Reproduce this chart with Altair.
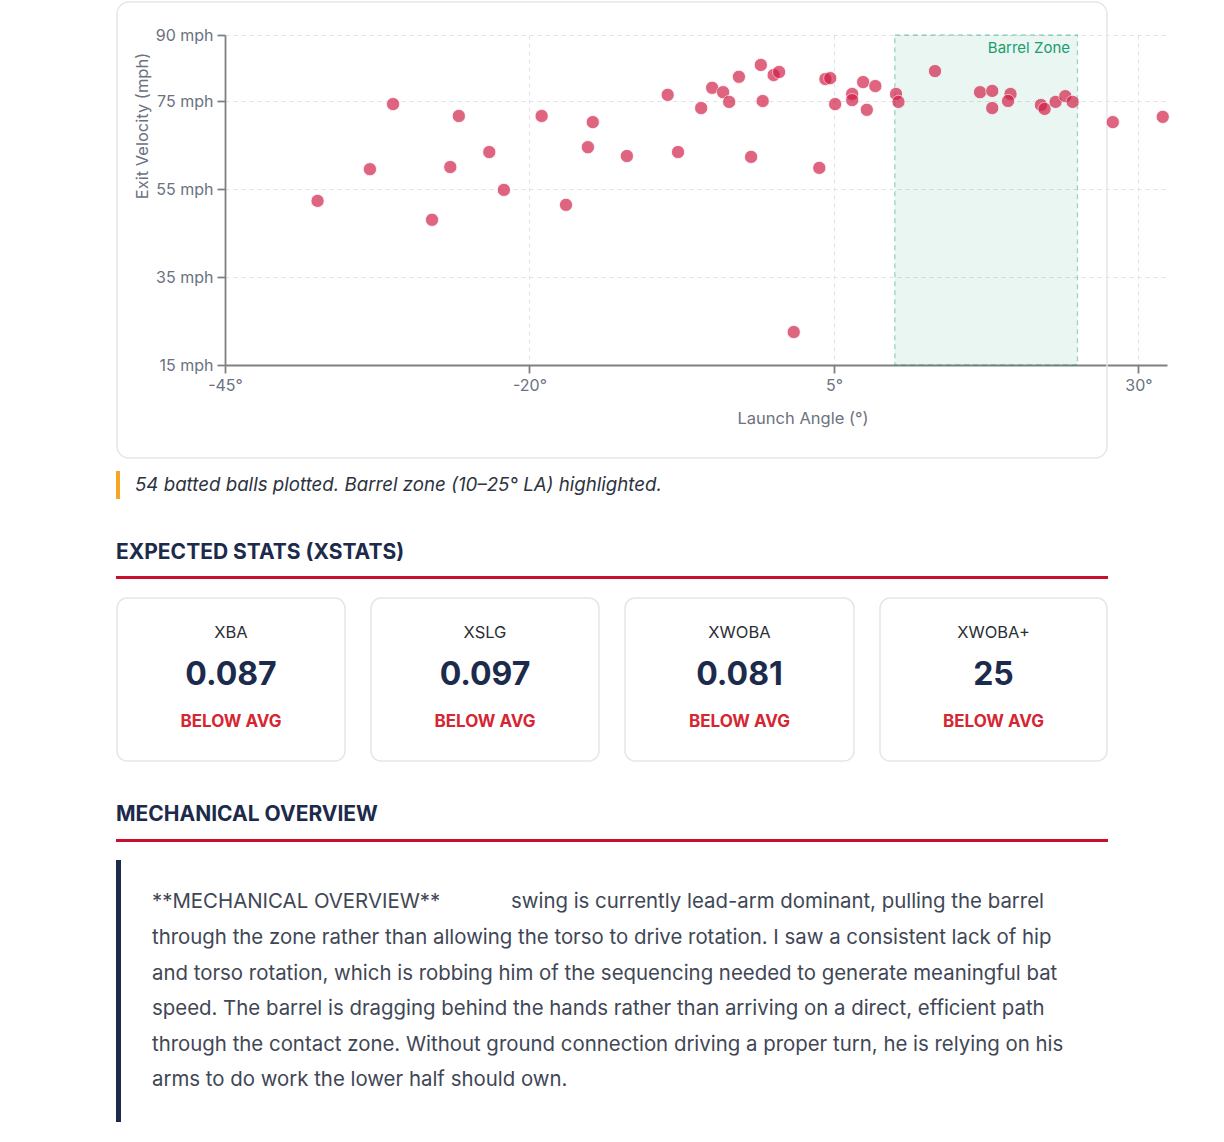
import altair as alt
import pandas as pd

# ---------------- data ----------------
launch_angle = [-37.4, -33.1, -31.2, -28.0, -26.5, -25.8, -23.3, -22.1, -19.0, -17.0,
                -15.2, -14.8, -12.0, -8.65, -7.8, -5.9, -5.0, -4.1, -3.6, -2.8,
                -1.8, -1.0, -0.85, 0.05, 0.5, 1.7, 3.8, 4.3, 4.7, 5.1,
                6.5, 6.5, 7.4, 7.7, 8.4, 10.1, 10.3, 13.3, 17.0, 18.0,
                18.0, 19.5, 19.3, 22.0, 22.3, 23.2, 24.0, 24.6, 27.9, 32.0]
exit_velocity = [52.3, 59.5, 74.3, 48.0, 60.0, 71.6, 63.4, 54.8, 71.6, 51.4,
                 64.5, 70.2, 62.5, 76.4, 63.4, 73.4, 78.0, 77.0, 74.8, 80.5,
                 62.3, 83.2, 75.0, 80.9, 81.6, 22.5, 59.8, 80.0, 80.2, 74.3,
                 76.6, 75.2, 79.3, 73.0, 78.4, 76.6, 74.8, 81.8, 77.0, 77.3,
                 73.4, 76.6, 75.0, 74.1, 73.2, 74.8, 76.1, 74.8, 70.2, 71.4]

barrel_zone = [10, 25]
x_ticks = [-45, -20, 5, 30]
y_ticks = [15, 35, 55, 75, 90]

caption = "54 batted balls plotted. Barrel zone (10\u201325\u00b0 LA) highlighted."
stat_labels = ["XBA", "XSLG", "XWOBA", "XWOBA+"]
stat_values = ["0.087", "0.097", "0.081", "25"]
stat_status = ["BELOW AVG", "BELOW AVG", "BELOW AVG", "BELOW AVG"]

heading_stats = "EXPECTED STATS (XSTATS)"
heading_mech = "MECHANICAL OVERVIEW"
para_first = ["**MECHANICAL OVERVIEW**", "swing is currently lead-arm dominant, pulling the barrel"]
para_lines = [
    "through the zone rather than allowing the torso to drive rotation. I saw a consistent lack of hip",
    "and torso rotation, which is robbing him of the sequencing needed to generate meaningful bat",
    "speed. The barrel is dragging behind the hands rather than arriving on a direct, efficient path",
    "through the contact zone. Without ground connection driving a proper turn, he is relying on his",
    "arms to do work the lower half should own.",
]

# ---------------- layout helpers ----------------
FONT = "Inter"
NAVY = "#1c2a4b"
RED_LINE = "#c8102e"
OX, OY = 225, 35          # plot origin on the page
PW, PH = 942, 330         # plot area size

one = alt.Chart(pd.DataFrame({"k": [0]}))


def txt(x, y, s, size, color, weight="normal", align="left", baseline="middle",
        style="normal", angle=None):
    kw = dict(text=s, fontSize=size, color=color, fontWeight=weight, align=align,
              baseline=baseline, font=FONT, fontStyle=style)
    if angle is not None:
        kw["angle"] = angle
    return one.mark_text(**kw).encode(x=alt.value(x - OX), y=alt.value(y - OY))


def box(x1, y1, x2, y2, **kw):
    return one.mark_rect(**kw).encode(
        x=alt.value(x1 - OX), x2=alt.value(x2 - OX),
        y=alt.value(y1 - OY), y2=alt.value(y2 - OY))


# ---------------- scatter ----------------
xscale = alt.Scale(domain=[-45, 32.35], nice=False, zero=False)
yscale = alt.Scale(domain=[15, 90], nice=False, zero=False)
axis_common = dict(title=None, grid=True, gridDash=[4, 4], gridColor="#dfe2e8",
                   domainColor="#808080", domainWidth=1.8, tickColor="#808080",
                   tickWidth=1.8, tickSize=8, labelColor="#6b7280", labelFontSize=16,
                   labelFont=FONT, labelPadding=4)
xaxis = alt.Axis(values=x_ticks, labelExpr="datum.value + '\u00b0'", labelFlush=False,
                 **axis_common)
yaxis = alt.Axis(values=y_ticks, labelExpr="datum.value + ' mph'", **axis_common)

pts = pd.DataFrame({"la": launch_angle, "ev": exit_velocity})
zone = pd.DataFrame({"lo": [barrel_zone[0]], "hi": [barrel_zone[1]]})

zone_layer = alt.Chart(zone).mark_rect(
    fill="#10a06a", fillOpacity=0.09, stroke="#10a06a", strokeOpacity=0.4,
    strokeDash=[5, 4], strokeWidth=1.3
).encode(
    x=alt.X("lo:Q", scale=xscale, axis=xaxis), x2="hi:Q",
    y=alt.Y(datum=90, scale=yscale, axis=yaxis), y2=alt.Y2(datum=15),
)

scatter = alt.Chart(pts).mark_circle(
    size=175, color="#d01c45", opacity=0.68, stroke="white", strokeWidth=0.8
).encode(
    x=alt.X("la:Q", scale=xscale, axis=xaxis),
    y=alt.Y("ev:Q", scale=yscale, axis=yaxis),
)

layers = []
# chart card
layers.append(box(117, 2, 1107, 458, filled=False, stroke="#e3e6eb", strokeWidth=1.5,
                  cornerRadius=12))
layers.append(zone_layer)
layers.append(scatter)
layers.append(txt(1070, 48, "Barrel Zone", 15, "#1a9d6c", align="right"))
layers.append(txt(143, 126, "Exit Velocity (mph)", 16.5, "#6b7280", align="center", angle=270))
layers.append(txt(803, 419, "Launch Angle (\u00b0)", 16.5, "#6b7280", align="center"))

# caption
layers.append(box(116, 471, 120, 499, fill="#f5a623"))
layers.append(txt(135, 485, caption, 18.7, "#2d3340", style="italic"))

# expected stats heading
layers.append(txt(116, 553, heading_stats, 21, NAVY, weight="bold"))
layers.append(box(116, 576, 1108, 579, fill=RED_LINE))

# stat cards
card_x = [(117, 345), (371, 599), (625, 854), (880, 1107)]
for (x1, x2), lab, val, st in zip(card_x, stat_labels, stat_values, stat_status):
    cx = (x1 + x2) / 2
    layers.append(box(x1, 598, x2, 761, filled=False, stroke="#e3e6eb", strokeWidth=1.5,
                      cornerRadius=10))
    layers.append(txt(cx, 633, lab, 16.5, "#2b2f36", align="center"))
    layers.append(txt(cx, 675, val, 32, NAVY, weight="bold", align="center"))
    layers.append(txt(cx, 722, st, 17, "#d62631", weight="bold", align="center"))

# mechanical overview
layers.append(txt(116, 815, heading_mech, 21, NAVY, weight="bold"))
layers.append(box(116, 839, 1108, 842, fill=RED_LINE))
layers.append(box(116, 860, 121, 1122, fill=NAVY))

PCOL = "#3f4756"
PSIZE = 20.4
layers.append(txt(152, 902, para_first[0], PSIZE, PCOL))
layers.append(txt(511, 902, para_first[1], PSIZE, PCOL))
for i, line in enumerate(para_lines):
    layers.append(txt(152, 938 + i * 35.6, line, PSIZE, PCOL))

chart = alt.layer(*layers).properties(
    width=PW, height=PH,
    autosize=alt.AutoSizeParams(type="none"),
    padding={"left": OX, "top": OY, "right": 1224 - OX - PW, "bottom": 1142 - OY - PH},
    background="white",
).configure_view(stroke=None)

chart.save("out.html", embed_options={"renderer": "svg", "actions": False})
